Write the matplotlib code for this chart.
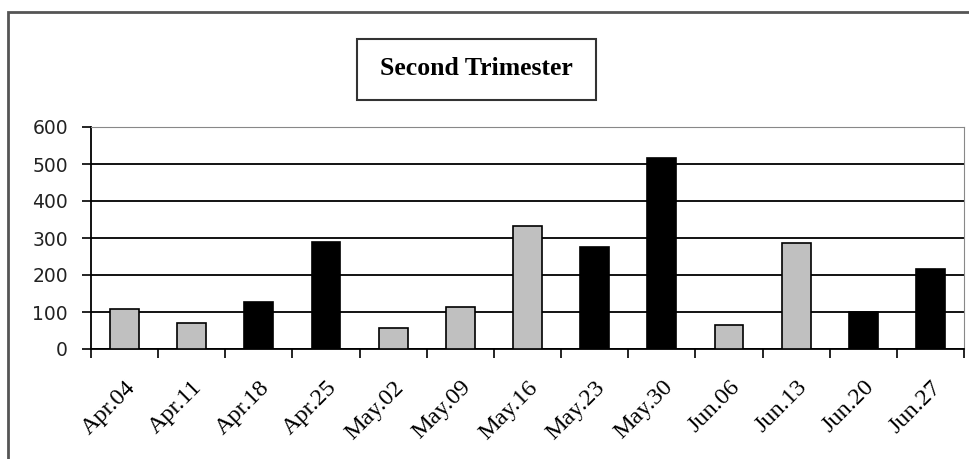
import numpy as np
import matplotlib
matplotlib.use('Agg')
import matplotlib.pyplot as plt
from matplotlib.patches import Rectangle

# data
weeks = ['Apr.04', 'Apr.11', 'Apr.18', 'Apr.25', 'May.02', 'May.09', 'May.16',
         'May.23', 'May.30', 'Jun.06', 'Jun.13', 'Jun.20', 'Jun.27']
counts = [108, 69, 128, 288, 56, 114, 332, 276, 515, 65, 287, 100, 217]
dark = [False, False, True, True, False, False, False, True, True, False, False, True, True]
title = 'Second Trimester'
yticks = [0, 100, 200, 300, 400, 500, 600]

W, H = 970, 459
fig = plt.figure(figsize=(W / 100, H / 100), dpi=100)

def fx(px):
    return px / W

def fy(py):
    return 1 - py / H

# outer chart frame (cut off at right and bottom)
fig.patches.append(Rectangle((fx(8), fy(475)), fx(990) - fx(8), fy(12) - fy(475),
                             transform=fig.transFigure, fill=False,
                             edgecolor='#555555', linewidth=2))

ax = fig.add_axes([fx(91), fy(349), fx(964) - fx(91), fy(127) - fy(349)])

x = np.arange(len(weeks))
colors = ['black' if d else '#c0c0c0' for d in dark]
ax.bar(x, counts, width=0.43, color=colors, edgecolor='black', linewidth=1.2, zorder=3)

ax.set_xlim(-0.5, len(weeks) - 0.5)
ax.set_ylim(0, 600)
ax.set_yticks(yticks)
ax.yaxis.grid(True, color='black', linewidth=1.3, zorder=0)
ax.set_axisbelow(True)

# ticks at category boundaries, labels at category centres
ax.set_xticks(np.arange(len(weeks) + 1) - 0.5)
ax.set_xticklabels([])
ax.set_xticks(x, minor=True)
ax.set_xticklabels(weeks, minor=True, rotation=45, ha='right', va='top',
                   rotation_mode='anchor', family='Liberation Serif',
                   fontsize=17.5)
ax.tick_params(axis='x', which='major', direction='out', length=6.5, width=1.2)
ax.tick_params(axis='x', which='minor', length=0, pad=20)
ax.tick_params(axis='y', direction='out', length=6.5, width=1.2, labelsize=13.5, pad=10)
for lab in ax.get_yticklabels():
    lab.set_color('#222222')

ax.spines['left'].set_color('black')
ax.spines['left'].set_linewidth(1.3)
ax.spines['bottom'].set_color('black')
ax.spines['bottom'].set_linewidth(1.3)
ax.spines['top'].set_color('#888888')
ax.spines['right'].set_color('#888888')

# title box
fig.patches.append(Rectangle((fx(357), fy(100)), fx(596) - fx(357), fy(39) - fy(100),
                             transform=fig.transFigure, fill=False,
                             edgecolor='#333333', linewidth=1.5))
fig.text(fx(476.5), fy(75), title, ha='center', va='baseline',
         family='Liberation Serif', weight='bold', fontsize=18.5)

fig.savefig('out.png', dpi=100)
